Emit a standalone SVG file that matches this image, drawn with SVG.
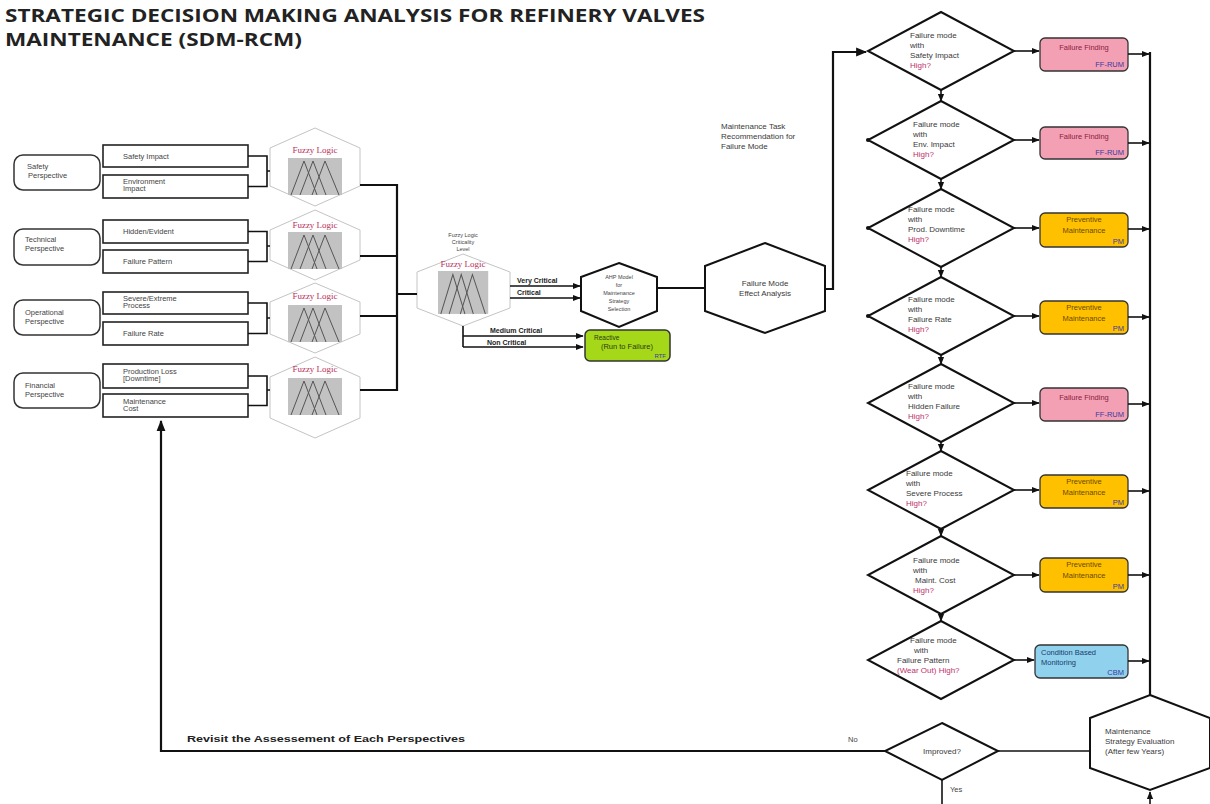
<svg xmlns="http://www.w3.org/2000/svg" width="1210" height="804" viewBox="0 0 1210 804">
<style>
  .t{font-family:"Liberation Sans",Arial,sans-serif;font-size:8px;fill:#3a3a3a}
  .ts{font-family:"Liberation Sans",Arial,sans-serif;font-size:7.5px;fill:#444}
  .tiny{font-family:"Liberation Sans",Arial,sans-serif;font-size:5.5px;fill:#444}
  .bx{font-family:"Liberation Sans",Arial,sans-serif;font-size:7.5px}
  .lbl{font-family:"Liberation Sans",Arial,sans-serif;font-size:7px;font-weight:bold;fill:#222}
  .hi{fill:#c0306a}
  .fz{font-family:"Liberation Serif","Times New Roman",serif;font-size:9px;fill:#b8305a}
  .title{font-family:"Open Sans","Liberation Sans",sans-serif;font-size:17px;font-weight:bold;fill:#222}
  .conn{fill:none;stroke:#111;stroke-width:1.6}
  .bold{stroke-width:2.2}
  .persp{fill:#fff;stroke:#333;stroke-width:1.5}
  .sub{fill:#fff;stroke:#222;stroke-width:1.6}
  .fhex{fill:#fff;stroke:#c4c4c4;stroke-width:1}
  .shape{fill:#fff;stroke:#111;stroke-width:2}
  .pink{fill:#f4a0b4;stroke:#333;stroke-width:1.3}
  .yel{fill:#ffc000;stroke:#333;stroke-width:1.3}
  .blu{fill:#90d2ee;stroke:#333;stroke-width:1.3}
  .grn{fill:#a6d81a;stroke:#333;stroke-width:1.5}
  .pk{fill:#8a2040}
  .yl{fill:#6a4a00}
  .bl{fill:#1a3a6a}
  .code{fill:#3a3aa0}
</style>
<defs>
  <marker id="arr" viewBox="0 0 10 10" refX="9" refY="5" markerWidth="5" markerHeight="5" orient="auto-start-reverse">
    <path d="M0,1 L10,5 L0,9 z" fill="#111"/>
  </marker>
  <!-- membership-function chart used inside each fuzzy logic block -->
  <g id="mf">
    <rect x="0" y="0" width="54" height="37" fill="#c2c2c2"/>
    <g fill="none" stroke="#555" stroke-width="1">
      <polyline points="3,37 16,3 29,37"/>
      <polyline points="12,37 25,3 38,37"/>
      <polyline points="24,37 37,3 51,37"/>
    </g>
  </g>
</defs>

<!-- title -->
<text class="title" x="5" y="22" textLength="700" lengthAdjust="spacingAndGlyphs">STRATEGIC DECISION MAKING ANALYSIS  FOR REFINERY VALVES</text>
<text class="title" x="5" y="46" textLength="297" lengthAdjust="spacingAndGlyphs">MAINTENANCE (SDM-RCM)</text>

<!-- perspectives -->
<g id="safety-perspective"><rect class="persp" x="14" y="155" width="86" height="35" rx="9"/><text class="ts" x="27" y="169">Safety</text><text class="ts" x="28" y="178">Perspective</text></g>
<g id="technical-perspective"><rect class="persp" x="14" y="229" width="86" height="36" rx="9"/><text class="ts" x="25" y="242">Technical</text><text class="ts" x="25" y="251">Perspective</text></g>
<g id="operational-perspective"><rect class="persp" x="14" y="300" width="86" height="35" rx="9"/><text class="ts" x="25" y="315">Operational</text><text class="ts" x="25" y="324">Perspective</text></g>
<g id="financial-perspective"><rect class="persp" x="14" y="373" width="86" height="35" rx="9"/><text class="ts" x="25" y="388">Financial</text><text class="ts" x="25" y="397">Perspective</text></g>

<!-- criteria -->
<g id="safety-impact"><rect class="sub" x="103" y="145" width="145" height="22"/><text class="ts" x="123" y="159">Safety Impact</text></g>
<g id="environment-impact"><rect class="sub" x="103" y="175" width="145" height="23"/><text class="ts" x="123" y="184">Environment</text><text class="ts" x="123" y="191">Impact</text></g>
<g id="hidden-evident"><rect class="sub" x="103" y="220" width="145" height="23"/><text class="ts" x="123" y="234">Hidden/Evident</text></g>
<g id="failure-pattern"><rect class="sub" x="103" y="250" width="145" height="23"/><text class="ts" x="123" y="264">Failure Pattern</text></g>
<g id="severe-process"><rect class="sub" x="103" y="292" width="145" height="22"/><text class="ts" x="123" y="301">Severe/Extreme</text><text class="ts" x="123" y="308">Process</text></g>
<g id="failure-rate"><rect class="sub" x="103" y="322" width="145" height="23"/><text class="ts" x="123" y="336">Failure Rate</text></g>
<g id="production-loss"><rect class="sub" x="103" y="364" width="145" height="24"/><text class="ts" x="123" y="374">Production Loss</text><text class="ts" x="123" y="381">[Downtime]</text></g>
<g id="maintenance-cost"><rect class="sub" x="103" y="394" width="145" height="23"/><text class="ts" x="123" y="404">Maintenance</text><text class="ts" x="123" y="411">Cost</text></g>

<!-- fuzzy logic blocks -->
<g id="fuzzy-1"><polygon class="fhex" points="315,128 360,148 360,186 315,206 270,186 270,148"/><text class="fz" x="315" y="153" text-anchor="middle">Fuzzy Logic</text><use href="#mf" x="288" y="158"/></g>
<g id="fuzzy-2"><polygon class="fhex" points="315,210 360,230 360,260 315,280 270,260 270,230"/><text class="fz" x="315" y="228" text-anchor="middle">Fuzzy Logic</text><use href="#mf" x="288" y="232"/></g>
<g id="fuzzy-3"><polygon class="fhex" points="315,283 360,302 360,334 315,353 270,334 270,302"/><text class="fz" x="315" y="299" text-anchor="middle">Fuzzy Logic</text><use href="#mf" x="288" y="305"/></g>
<g id="fuzzy-4"><polygon class="fhex" points="315,357 360,377 360,418 315,438 270,418 270,377"/><text class="fz" x="315" y="372" text-anchor="middle">Fuzzy Logic</text><use href="#mf" x="288" y="378"/></g>

<!-- criticality level -->
<g id="criticality">
  <text class="tiny" x="463" y="237" text-anchor="middle">Fuzzy Logic</text>
  <text class="tiny" x="463" y="244" text-anchor="middle">Criticality</text>
  <text class="tiny" x="463" y="251" text-anchor="middle">Level</text>
  <polygon class="fhex" points="463,254 510,272 510,308 463,326 417,308 417,272"/>
  <text class="fz" x="463" y="267" text-anchor="middle">Fuzzy Logic</text>
  <use href="#mf" transform="translate(438,271) scale(0.93,1.16)"/>
</g>

<g id="ahp-model">
  <polygon class="shape" points="619,263 657,277 657,311 619,327 581,311 581,277"/>
  <text class="tiny" x="619" y="279" text-anchor="middle">AHP Model</text>
  <text class="tiny" x="619" y="287" text-anchor="middle">for</text>
  <text class="tiny" x="619" y="295" text-anchor="middle">Maintenance</text>
  <text class="tiny" x="619" y="303" text-anchor="middle">Strategy</text>
  <text class="tiny" x="619" y="311" text-anchor="middle">Selection</text>
</g>

<g id="reactive">
  <rect class="grn" x="585" y="330" width="85" height="31" rx="5"/>
  <text class="bx" x="594" y="340" style="font-size:6.5px;fill:#2a3a10">Reactive</text>
  <text class="bx" x="627" y="349" text-anchor="middle" style="fill:#2a3a10">(Run to Failure)</text>
  <text class="bx code" x="666" y="358" text-anchor="end" style="font-size:6px">RTF</text>
</g>

<g id="fmea">
  <polygon class="shape" points="765,243 825,266 825,311 765,333 705,311 705,266"/>
  <text class="t" x="765" y="286" text-anchor="middle">Failure Mode</text>
  <text class="t" x="765" y="296" text-anchor="middle">Effect Analysis</text>
</g>

<text class="t" x="721" y="129">Maintenance Task</text>
<text class="t" x="721" y="139">Recommendation for</text>
<text class="t" x="721" y="149">Failure Mode</text>

<!-- failure mode decisions -->
<g id="q-safety"><polygon class="shape" points="941,12 1014,51 941,90 868,51"/><text class="t" x="910" y="38">Failure mode</text><text class="t" x="910" y="48">with</text><text class="t" x="910" y="58">Safety Impact</text><text class="t hi" x="910" y="68">High?</text></g>
<g id="q-env"><polygon class="shape" points="941,101 1014,140 941,179 868,140"/><text class="t" x="913" y="127">Failure mode</text><text class="t" x="913" y="137">with</text><text class="t" x="913" y="147">Env.  Impact</text><text class="t hi" x="913" y="157">High?</text></g>
<g id="q-downtime"><polygon class="shape" points="941,189 1014,228 941,267 868,228"/><text class="t" x="908" y="212">Failure mode</text><text class="t" x="908" y="222">with</text><text class="t" x="908" y="232">Prod. Downtime</text><text class="t hi" x="908" y="242">High?</text></g>
<g id="q-rate"><polygon class="shape" points="941,277 1014,316 941,355 868,316"/><text class="t" x="908" y="302">Failure mode</text><text class="t" x="908" y="312">with</text><text class="t" x="908" y="322">Failure Rate</text><text class="t hi" x="908" y="332">High?</text></g>
<g id="q-hidden"><polygon class="shape" points="941,364 1014,403 941,442 868,403"/><text class="t" x="908" y="389">Failure mode</text><text class="t" x="908" y="399">with</text><text class="t" x="908" y="409">Hidden Failure</text><text class="t hi" x="908" y="419">High?</text></g>
<g id="q-process"><polygon class="shape" points="941,451 1014,490 941,529 868,490"/><text class="t" x="906" y="476">Failure mode</text><text class="t" x="906" y="486">with</text><text class="t" x="906" y="496">Severe Process</text><text class="t hi" x="906" y="506">High?</text></g>
<g id="q-cost"><polygon class="shape" points="941,536 1014,575 941,614 868,575"/><text class="t" x="913" y="563">Failure mode</text><text class="t" x="913" y="573">with</text><text class="t" x="915" y="583">Maint. Cost</text><text class="t hi" x="913" y="593">High?</text></g>
<g id="q-pattern"><polygon class="shape" points="941,621 1014,660 941,699 868,660"/><text class="t" x="910" y="643">Failure mode</text><text class="t" x="914" y="653">with</text><text class="t" x="897" y="663">Failure Pattern</text><text class="t hi" x="897" y="673">(Wear Out) High?</text></g>

<!-- maintenance tasks -->
<g id="task-1"><rect class="pink" x="1040" y="38" width="88" height="33" rx="5"/><text class="bx pk" x="1084" y="50" text-anchor="middle">Failure Finding</text><text class="bx code" x="1124" y="67" text-anchor="end">FF-RUM</text></g>
<g id="task-2"><rect class="pink" x="1040" y="127" width="88" height="32" rx="5"/><text class="bx pk" x="1084" y="139" text-anchor="middle">Failure Finding</text><text class="bx code" x="1124" y="155" text-anchor="end">FF-RUM</text></g>
<g id="task-3"><rect class="yel" x="1040" y="213" width="88" height="34" rx="5"/><text class="bx yl" x="1084" y="222" text-anchor="middle">Preventive</text><text class="bx yl" x="1084" y="233" text-anchor="middle">Maintenance</text><text class="bx code" x="1124" y="244" text-anchor="end">PM</text></g>
<g id="task-4"><rect class="yel" x="1040" y="301" width="88" height="33" rx="5"/><text class="bx yl" x="1084" y="310" text-anchor="middle">Preventive</text><text class="bx yl" x="1084" y="321" text-anchor="middle">Maintenance</text><text class="bx code" x="1124" y="331" text-anchor="end">PM</text></g>
<g id="task-5"><rect class="pink" x="1040" y="388" width="88" height="33" rx="5"/><text class="bx pk" x="1084" y="400" text-anchor="middle">Failure Finding</text><text class="bx code" x="1124" y="417" text-anchor="end">FF-RUM</text></g>
<g id="task-6"><rect class="yel" x="1040" y="475" width="88" height="33" rx="5"/><text class="bx yl" x="1084" y="484" text-anchor="middle">Preventive</text><text class="bx yl" x="1084" y="495" text-anchor="middle">Maintenance</text><text class="bx code" x="1124" y="505" text-anchor="end">PM</text></g>
<g id="task-7"><rect class="yel" x="1040" y="558" width="88" height="34" rx="5"/><text class="bx yl" x="1084" y="567" text-anchor="middle">Preventive</text><text class="bx yl" x="1084" y="578" text-anchor="middle">Maintenance</text><text class="bx code" x="1124" y="589" text-anchor="end">PM</text></g>
<g id="task-8"><rect class="blu" x="1035" y="645" width="93" height="33" rx="5"/><text class="bx bl" x="1041" y="655">Condition Based</text><text class="bx bl" x="1041" y="665">Monitoring</text><text class="bx code" x="1124" y="675" text-anchor="end">CBM</text></g>

<!-- evaluation and feedback -->
<g id="evaluation">
  <polygon class="shape" points="1150,695 1210,718 1210,768 1150,790 1090,768 1090,718"/>
  <text class="t" x="1105" y="734">Maintenance</text>
  <text class="t" x="1105" y="744">Strategy Evaluation</text>
  <text class="t" x="1105" y="754">(After few Years)</text>
</g>
<g id="improved">
  <polygon class="shape" points="942,723 998,751 942,780 885,751"/>
  <text class="t" x="942" y="754" text-anchor="middle">Improved?</text>
</g>

<text class="lbl" x="187" y="742" style="font-size:9.5px" textLength="278" lengthAdjust="spacingAndGlyphs">Revisit the Assessement of Each Perspectives</text>
<text class="ts" x="848" y="742">No</text>
<text class="ts" x="950" y="792">Yes</text>

<text class="lbl" x="517" y="283">Very Critical</text>
<text class="lbl" x="517" y="295">Critical</text>
<text class="lbl" x="490" y="333">Medium Critical</text>
<text class="lbl" x="487" y="345">Non Critical</text>

<!-- connectors -->
<g id="connectors">
  <!-- criteria into fuzzy blocks -->
  <path class="conn" d="M248,156 H267 V186.5 H248 M267,171 H270"/>
  <path class="conn" d="M248,231.5 H267 V261.5 H248 M267,246 H270"/>
  <path class="conn" d="M248,303 H267 V333.5 H248 M267,318 H270"/>
  <path class="conn" d="M248,376 H267 V405.5 H248 M267,390 H270"/>
  <!-- fuzzy blocks into criticality level -->
  <path class="conn bold" d="M360,185 H397 V390 H360 M360,256 H397 M360,316 H397 M397,294 H417"/>
  <!-- criticality outcomes -->
  <path class="conn" d="M510,286 H580" marker-end="url(#arr)"/>
  <path class="conn" d="M510,298 H580" marker-end="url(#arr)"/>
  <path class="conn" d="M463,326 V347"/>
  <path class="conn" d="M463,336 H583" marker-end="url(#arr)"/>
  <path class="conn" d="M463,347 H583" marker-end="url(#arr)"/>
  <path class="conn bold" d="M657,288 H705"/>
  <path class="conn bold" d="M825,289 H833 V52 H866" marker-end="url(#arr)"/>
  <!-- decision chain -->
  <path class="conn" d="M941,90 V101" marker-end="url(#arr)"/>
  <path class="conn" d="M941,179 V189" marker-end="url(#arr)"/>
  <path class="conn" d="M941,267 V277" marker-end="url(#arr)"/>
  <path class="conn" d="M941,355 V364" marker-end="url(#arr)"/>
  <path class="conn" d="M941,442 V451" marker-end="url(#arr)"/>
  <path class="conn" d="M941,529 V536" marker-end="url(#arr)"/>
  <path class="conn" d="M941,614 V621" marker-end="url(#arr)"/>
  <g fill="#111"><circle cx="868" cy="140" r="2"/><circle cx="868" cy="228" r="2"/><circle cx="868" cy="316" r="2"/></g>
  <!-- decisions to tasks -->
  <path class="conn" d="M1014,51 H1039" marker-end="url(#arr)"/>
  <path class="conn" d="M1014,140 H1039" marker-end="url(#arr)"/>
  <path class="conn" d="M1014,228 H1039" marker-end="url(#arr)"/>
  <path class="conn" d="M1014,316 H1039" marker-end="url(#arr)"/>
  <path class="conn" d="M1014,403 H1039" marker-end="url(#arr)"/>
  <path class="conn" d="M1014,490 H1039" marker-end="url(#arr)"/>
  <path class="conn" d="M1014,575 H1039" marker-end="url(#arr)"/>
  <path class="conn" d="M1014,660 H1034" marker-end="url(#arr)"/>
  <!-- tasks to evaluation -->
  <path class="conn bold" d="M1150,52 V695"/>
  <path class="conn" d="M1128,54 H1149" marker-end="url(#arr)"/>
  <path class="conn" d="M1128,143 H1149" marker-end="url(#arr)"/>
  <path class="conn" d="M1128,229 H1149" marker-end="url(#arr)"/>
  <path class="conn" d="M1128,317 H1149" marker-end="url(#arr)"/>
  <path class="conn" d="M1128,404 H1149" marker-end="url(#arr)"/>
  <path class="conn" d="M1128,491 H1149" marker-end="url(#arr)"/>
  <path class="conn" d="M1128,575 H1149" marker-end="url(#arr)"/>
  <path class="conn" d="M1128,661 H1149" marker-end="url(#arr)"/>
  <path class="conn" d="M1150,804 V792" marker-end="url(#arr)"/>
  <!-- evaluation outcome -->
  <path class="conn" d="M1090,751 H998"/>
  <path class="conn" d="M942,780 V804"/>
  <path class="conn bold" d="M885,751 H161 V421" marker-end="url(#arr)"/>
</g>
</svg>
